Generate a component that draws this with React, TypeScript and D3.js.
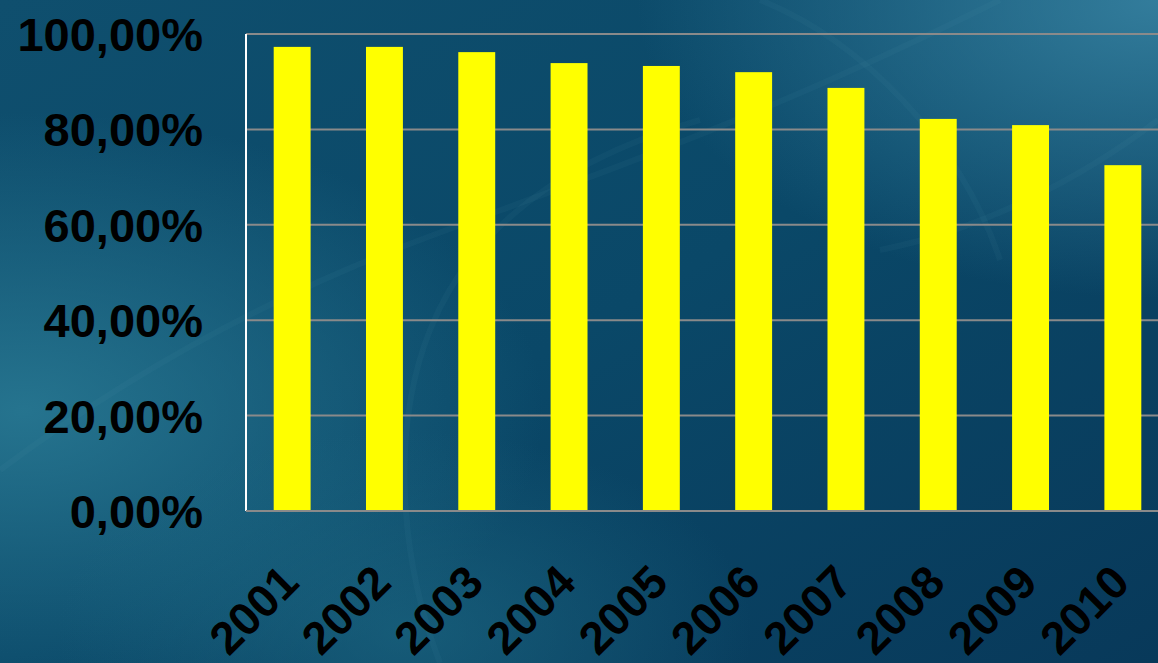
import React from "react";
import * as d3 from "d3";

const years = ["2001", "2002", "2003", "2004", "2005", "2006", "2007", "2008", "2009", "2010"];
const values = [97.3, 97.3, 96.2, 93.9, 93.3, 92.0, 88.7, 82.2, 80.9, 72.5];
const yTicks = [0, 20, 40, 60, 80, 100];

const W = 1158;
const H = 663;

export default function App() {
  const x = d3
    .scaleBand<string>()
    .domain(years)
    .range([246, 1169])
    .paddingInner(0.6)
    .paddingOuter(0.3);
  const y = d3.scaleLinear().domain([0, 100]).range([511, 34]);
  const fmt = (v: number) => v.toFixed(2).replace(".", ",") + "%";
  const font = "'Liberation Sans', Arial, sans-serif";

  return (
    <svg
      width={W}
      height={H}
      style={{ position: "absolute", left: 0, top: 0, display: "block" }}
    >
      <defs>
        <linearGradient id="bgLin" x1="0" y1="0" x2="1" y2="1">
          <stop offset="0" stopColor="#0f4f6e" />
          <stop offset="0.5" stopColor="#0a4868" />
          <stop offset="1" stopColor="#08395a" />
        </linearGradient>
        <radialGradient id="glowTR" cx="1" cy="0" r="0.45">
          <stop offset="0" stopColor="#3a86a5" stopOpacity="0.85" />
          <stop offset="1" stopColor="#3a86a5" stopOpacity="0" />
        </radialGradient>
        <radialGradient id="glowL" cx="0.02" cy="0.62" r="0.45">
          <stop offset="0" stopColor="#2a7b95" stopOpacity="0.85" />
          <stop offset="1" stopColor="#2a7b95" stopOpacity="0" />
        </radialGradient>
        <radialGradient id="glowBL" cx="0.35" cy="0.95" r="0.3">
          <stop offset="0" stopColor="#1f6c86" stopOpacity="0.6" />
          <stop offset="1" stopColor="#1f6c86" stopOpacity="0" />
        </radialGradient>
      </defs>
      <rect x={0} y={0} width={W} height={H} fill="url(#bgLin)" />
      <rect x={0} y={0} width={W} height={H} fill="url(#glowTR)" />
      <rect x={0} y={0} width={W} height={H} fill="url(#glowL)" />
      <rect x={0} y={0} width={W} height={H} fill="url(#glowBL)" />
      <g fill="none" stroke="#5fa6c0" strokeOpacity={0.06} strokeWidth={6}>
        <path d="M 0 470 C 120 380, 260 300, 420 240 S 760 120, 1000 0" />
        <path d="M 440 663 C 400 560, 390 430, 430 330 S 560 160, 700 120" />
        <path d="M 760 0 C 860 40, 960 140, 1000 260" />
        <path d="M 1158 120 C 1080 180, 980 230, 880 250" />
      </g>

      {/* gridlines */}
      {yTicks.map((t) => (
        <line
          key={"g" + t}
          x1={246}
          x2={W}
          y1={y(t)}
          y2={y(t)}
          stroke="#8a8a8a"
          strokeWidth={2}
        />
      ))}
      {/* left axis */}
      <line x1={246} x2={246} y1={y(100)} y2={y(0)} stroke="#ffffff" strokeWidth={2} />

      {/* bars */}
      {years.map((yr, i) => (
        <rect
          key={yr}
          x={x(yr)}
          y={y(values[i])}
          width={x.bandwidth()}
          height={y(0) - y(values[i])}
          fill="#ffff00"
        />
      ))}
      {/* zero line on top */}
      <line x1={246} x2={W} y1={y(0)} y2={y(0)} stroke="#8a8a8a" strokeWidth={2} />

      {/* y labels */}
      {yTicks.map((t) => (
        <text
          key={"l" + t}
          x={203}
          y={y(t)}
          dy="0.36em"
          textAnchor="end"
          fontFamily={font}
          fontWeight="bold"
          fontSize={47}
          fill="#000"
        >
          {fmt(t)}
        </text>
      ))}

      {/* x labels */}
      {years.map((yr) => {
        const cx = (x(yr) as number) + x.bandwidth() / 2;
        return (
          <text
            key={"x" + yr}
            transform={`translate(${cx + 9},${585}) rotate(-45)`}
            textAnchor="end"
            fontFamily={font}
            fontWeight="bold"
            fontSize={46}
            fill="#000"
          >
            {yr}
          </text>
        );
      })}
    </svg>
  );
}
